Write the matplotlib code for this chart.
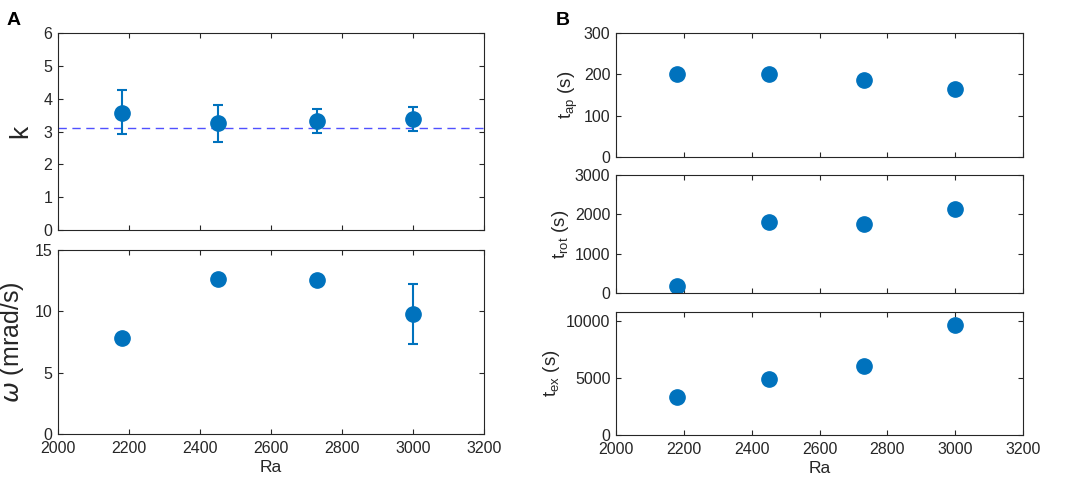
import numpy as np
import matplotlib
matplotlib.use('Agg')
import matplotlib.pyplot as plt

plt.rcParams['font.family'] = ['Liberation Sans', 'DejaVu Sans']
plt.rcParams['mathtext.fontset'] = 'dejavusans'

# Data
ra = [2180, 2450, 2730, 3000]
k_vals = [3.57, 3.25, 3.33, 3.38]
k_err_hi = [4.27, 3.81, 3.70, 3.74]
k_err_lo = [2.92, 2.69, 2.97, 3.03]
k_ref = 3.10
omega_ra = [2180, 2450, 2730, 3000]
omega = [7.85, 12.6, 12.52, 9.78]
omega_err_hi = [7.85, 12.6, 12.52, 12.2]
omega_err_lo = [7.85, 12.6, 12.52, 7.31]
t_ap = [200, 200, 187, 165]
t_rot = [188, 1804, 1746, 2129]
t_ex = [3324, 4938, 6058, 9638]

BLUE = '#0072BD'
GRAY = '#262626'

fig = plt.figure(figsize=(10.65, 4.86), dpi=100)


def style(ax, xlabels=False):
    ax.set_xlim(2000, 3200)
    ax.set_xticks(range(2000, 3201, 200))
    ax.tick_params(direction='in', top=True, right=True, length=3.5, width=0.8,
                   colors=GRAY, labelsize=11.5)
    ax.tick_params(axis='x', pad=5)
    ax.tick_params(axis='y', pad=4)
    if not xlabels:
        ax.tick_params(labelbottom=False)
    for s in ax.spines.values():
        s.set_color(GRAY)
        s.set_linewidth(0.8)


# Panel A top: k
ax1 = fig.add_axes([0.0545, 0.5267, 0.4, 0.4053])
yerr = [np.array(k_vals) - np.array(k_err_lo), np.array(k_err_hi) - np.array(k_vals)]
ax1.axhline(k_ref, color='#5050ff', ls=(0, (6, 4)), lw=1.0, zorder=1)
ax1.errorbar(ra, k_vals, yerr=yerr, fmt='o', color=BLUE, ms=11, elinewidth=1.5,
             capsize=3.5, capthick=1.5, zorder=3)
ax1.set_ylim(0, 6)
ax1.set_yticks(range(0, 7))
ax1.set_ylabel('k', fontsize=19, color=GRAY, labelpad=8)
style(ax1)

# Panel A bottom: omega
ax2 = fig.add_axes([0.0545, 0.107, 0.4, 0.3786])
yerr2 = [np.array(omega) - np.array(omega_err_lo), np.array(omega_err_hi) - np.array(omega)]
ax2.errorbar(omega_ra, omega, yerr=yerr2, fmt='o', color=BLUE, ms=11, elinewidth=1.5,
             capsize=3.5, capthick=1.5, zorder=3)
ax2.set_ylim(0, 15)
ax2.set_yticks([0, 5, 10, 15])
ax2.set_ylabel(r'$\omega$ (mrad/s)', fontsize=18, color=GRAY, labelpad=6)
ax2.set_xlabel('Ra', fontsize=12.5, color=GRAY, labelpad=3)
style(ax2, xlabels=True)

# Panel B
bx1 = fig.add_axes([0.5784, 0.677, 0.3822, 0.255])
bx1.plot(ra, t_ap, 'o', color=BLUE, ms=11)
bx1.set_ylim(0, 300)
bx1.set_yticks([0, 100, 200, 300])
bx1.set_ylabel(r'$\mathregular{t_{ap}}$ (s)', fontsize=13.5, color=GRAY, labelpad=3)
style(bx1)

bx2 = fig.add_axes([0.5784, 0.397, 0.3822, 0.243])
bx2.plot(ra, t_rot, 'o', color=BLUE, ms=11)
bx2.set_ylim(0, 3000)
bx2.set_yticks([0, 1000, 2000, 3000])
bx2.set_ylabel(r'$\mathregular{t_{rot}}$ (s)', fontsize=13.5, color=GRAY, labelpad=3)
style(bx2)

bx3 = fig.add_axes([0.5784, 0.105, 0.3822, 0.253])
bx3.plot(ra, t_ex, 'o', color=BLUE, ms=11)
bx3.set_ylim(0, 10820)
bx3.set_yticks([0, 5000, 10000])
bx3.set_ylabel(r'$\mathregular{t_{ex}}$ (s)', fontsize=13.5, color=GRAY, labelpad=3)
bx3.set_xlabel('Ra', fontsize=12.5, color=GRAY, labelpad=3)
style(bx3, xlabels=True)

fig.text(0.006, 0.975, 'A', fontsize=14, fontweight='bold', va='top', ha='left')
fig.text(0.522, 0.975, 'B', fontsize=14, fontweight='bold', va='top', ha='left')

fig.savefig('out.png', dpi=100)
